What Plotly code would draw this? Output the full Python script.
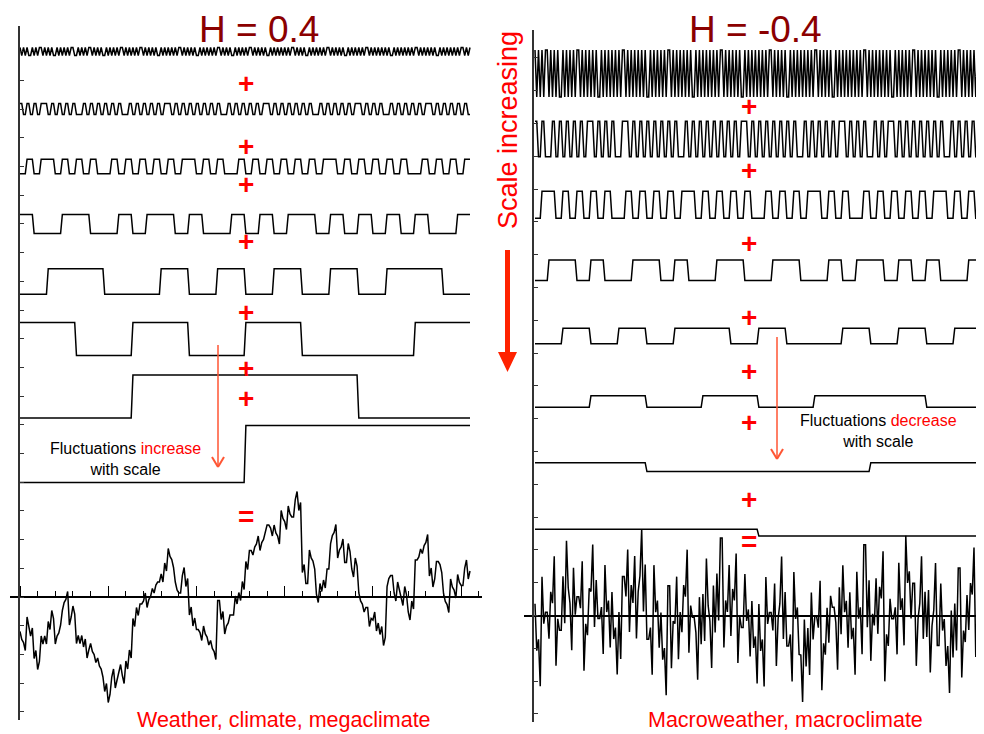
import plotly.graph_objects as go

W, H = 984, 734
OFF = 8  # page body margin in the browser
FW, FH = W - OFF, H - OFF

# ------------------------------------------------------------------ data
# Haar-like square-wave components, finest scale first; '+' = up, '-' = down
LEFT_ROW_SIGNS = [
    "+-+-+--+ -+-++-+- +-+--+-+ -+-+-++- -+-+-+-+ +-+-+-+- -+-+-+-+ -++-+-+- "
    "+-+-++-+ -+-+-+-- +-+-+-+- +-++-+-+ -+-+--+- +-+-+-+- ++-+-+-+ --+-+-+- "
    "+-++-+-+ -+-+--+- +-+-+-+- +-++-+-+ -+--+-+- +-+-+-++ -+-+-+-+ --+-+-+- "
    "+-+-++-+ -+-+-+-+ -+--+-+- +-+-+-+- ++-+-+-+ -+-+--+- +-+-+-+- +-++-+-+",
    "+-+-+-++ -+-+-+-+ --+-+-+- +-+-+--+ -+-+-+-+ -++-+-+- +-+-+-+- +--+-+-+ "
    "-+-+-++- +-+-+-+- +-+--+-+ -+-+-+-+ +-+-+-+- -+-+-+-+ -+-++-+- +-+-+-+-",
    "-+-++-+- +-+--+-+ -+-+-+-+ +-+-+--+ -+-+-+-+ -+-++-+- +-+-+-+- -+-+-+-+",
    "+--++--+ -++-+--+ -+-++-+- +-+-+--+",
    "-++--+-+ -+-+-++-",
    "+-+-+--+",
    "-++-",
    "-+",
]
LEFT_ROW_AMPS = [8, 11, 14.5, 19, 25.5, 33, 43, 57]

RIGHT_ROW_SIGNS = [
    "+-+-+-++ -+-+-+-- +-+-+-+- ++-+-+-+ -+-+--+- +-+-+-+- +-++-+-+ -+-+-+-+ "
    "--+-+-+- +-+-++-+ -+-+-+-+ -+--+-+- +-+-+-+- +-++-+-+ -+-+-+-- +-+-+-+- "
    "+-+-+-++ -+-+-+-+ --+-+-+- +-+-+-+- ++-+-+-+ -+--+-+- +-+-+-+- +-+-++-+ "
    "-+-+-+-+ -+-+--+- +-+-+-+- ++-+-+-+ -+-+-+-- +-+-+-+- +-++-+-+ -+-+-+-+",
    "+-+--+-+ -+-+-+-+ +-+-+-+- -++-+-+- +-+-+-+- +--+-+-+ -+-+-+-+ -+-++-+- "
    "+-+-+-+- +-+--+-+ -+-+-+-+ +-+-+-+- -+-+-++- +-+-+-+- +-+-+--+ -+-+-+-+",
    "-++-+-+- +-+--+-+ -+-+-++- +-+-+-+- -+-+-+-+ +-+-+--+ -+-+-+-+ -++-+-+-",
    "-++-+--+ +-+--++- -++--+-+ +-+-+--+",
    "-+-+-++- +--+-+-+",
    "-+-+-++-",
    "+--+",
    "+-",
]
RIGHT_ROW_AMPS = [47, 35.5, 27, 20.5, 15.5, 11.7, 8.9, 6.8]

N = 256

# ------------------------------------------------------------------ layout constants (pixels)
LEFT_ROW_Y = [51.5 + 57.5 * k for k in range(8)]
LEFT_SUM_Y = 597
RIGHT_ROW_Y = [73.5 + 65.6 * k for k in range(8)]
RIGHT_SUM_Y = 615.5


def expand(signs):
    s = signs.replace(" ", "")
    if N % len(s):
        raise ValueError(f"bad length {len(s)}")
    rep = N // len(s)
    out = []
    for c in s:
        out += [1 if c == "+" else -1] * rep
    return out


def px(x):
    return (x - OFF) / FW


def py(y):
    return 1 - (y - OFF) / FH


fig = go.Figure()
idx = list(range(N))

for side, signs_list, amps, rows_y, sum_y, xa, ya in [
    ("L", LEFT_ROW_SIGNS, LEFT_ROW_AMPS, LEFT_ROW_Y, LEFT_SUM_Y, "x", "y"),
    ("R", RIGHT_ROW_SIGNS, RIGHT_ROW_AMPS, RIGHT_ROW_Y, RIGHT_SUM_Y, "x2", "y2"),
]:
    total = [0.0] * N
    for signs, amp, yc in zip(signs_list, amps, rows_y):
        vals = expand(signs)
        total = [t + v * amp / 2 for t, v in zip(total, vals)]
        fig.add_trace(go.Scatter(
            x=idx, y=[yc - v * amp / 2 for v in vals], mode="lines",
            line=dict(color="black", width=1.5), xaxis=xa, yaxis=ya,
            hoverinfo="skip", showlegend=False))
    fig.add_trace(go.Scatter(
        x=idx, y=[sum_y - t for t in total], mode="lines",
        line=dict(color="black", width=1.5), xaxis=xa, yaxis=ya,
        hoverinfo="skip", showlegend=False))

l0, l1 = 20, 470
lsc = (l1 - l0) / (N - 1)
r0, r1 = 535, 981
rsc = (r1 - r0) / (N - 1)

fig.update_layout(
    width=FW, height=FH, margin=dict(l=0, r=0, t=0, b=0),
    paper_bgcolor="white", plot_bgcolor="rgba(0,0,0,0)",
    font=dict(family="Liberation Sans, Arial, sans-serif"),
    xaxis=dict(domain=[px(10), px(482)], range=[(10 - l0) / lsc, (482 - l0) / lsc],
               anchor="free", position=py(LEFT_SUM_Y), showline=True, linecolor="black",
               linewidth=1.5, ticks="inside", tick0=0, dtick=50, ticklen=10,
               tickcolor="black", tickwidth=1.2,
               minor=dict(dtick=10, ticklen=5, ticks="inside", tickcolor="black", tickwidth=1.2),
               showticklabels=False, showgrid=False, zeroline=False),
    yaxis=dict(domain=[py(720), py(26)], range=[720, 26], anchor="free", position=px(19),
               showline=True, linecolor="#333", linewidth=1.5, ticks="inside",
               tick0=LEFT_SUM_Y, dtick=28.7, ticklen=4, tickcolor="#333",
               showticklabels=False, showgrid=False, zeroline=False),
    xaxis2=dict(domain=[px(524), 1.0], range=[(524 - r0) / rsc, (984 - r0) / rsc],
                anchor="free", position=py(RIGHT_SUM_Y), showline=True, linecolor="black",
                linewidth=1.5, ticks="", showticklabels=False, showgrid=False, zeroline=False),
    yaxis2=dict(domain=[py(722), py(30)], range=[722, 30], anchor="free", position=px(533),
                showline=True, linecolor="#333", linewidth=1.5, ticks="inside",
                tick0=RIGHT_SUM_Y, dtick=32.8, ticklen=4, tickcolor="#333",
                showticklabels=False, showgrid=False, zeroline=False),
)

ann = []


def text(x, y, t, size, color, **kw):
    d = dict(x=px(x), y=py(y), xref="paper", yref="paper", text=t, showarrow=False,
             font=dict(size=size, color=color), xanchor="center", yanchor="middle")
    d.update(kw)
    ann.append(d)


text(259, 29.5, "H = 0.4", 37, "#8B0000")
text(755, 29.5, "H = -0.4", 37, "#8B0000")
text(508, 130, "Scale increasing", 27, "#FF0000", textangle=-90)

for y in [84, 146, 184, 241, 312, 368, 398]:
    text(245.5, y, "<b>+</b>", 28, "#FF0000")
text(245.5, 516, "<b>=</b>", 28, "#FF0000")
for y in [107, 170, 243, 317, 372, 422, 499]:
    text(749, y, "<b>+</b>", 28, "#FF0000")
text(749, 541, "<b>=</b>", 28, "#FF0000")

text(125, 459, "Fluctuations <span style='color:#FF0000'>increase</span><br>with scale", 16, "black")
text(878, 431, "Fluctuations <span style='color:#FF0000'>decrease</span><br>with scale", 16, "black")
text(284, 720, "Weather, climate, megaclimate", 21.5, "#FF0000")
text(785, 720, "Macroweather, macroclimate", 21.5, "#FF0000")

shapes = []


def seg(x0, y0, x1, y1, color, width):
    shapes.append(dict(type="line", xref="paper", yref="paper", x0=px(x0), y0=py(y0),
                       x1=px(x1), y1=py(y1), line=dict(color=color, width=width)))


for ax, ay0, ay1 in [(218, 345, 467), (777, 337, 459)]:
    seg(ax, ay0, ax, ay1, "#FF5533", 1.5)
    seg(ax - 6, ay1 - 10, ax, ay1, "#FF5533", 2)
    seg(ax + 6, ay1 - 10, ax, ay1, "#FF5533", 2)


def P(x, y):
    return f"{px(x)},{py(y)}"


path = ("M " + P(505, 250) + " L " + P(510, 250) + " L " + P(510, 352) + " L " + P(517, 352)
        + " L " + P(507.5, 372) + " L " + P(498, 352) + " L " + P(505, 352) + " Z")
shapes.append(dict(type="path", xref="paper", yref="paper", path=path,
                   fillcolor="#FF2200", line=dict(color="#FF2200", width=0)))

fig.update_layout(annotations=ann, shapes=shapes)
fig.write_html("out.html")
